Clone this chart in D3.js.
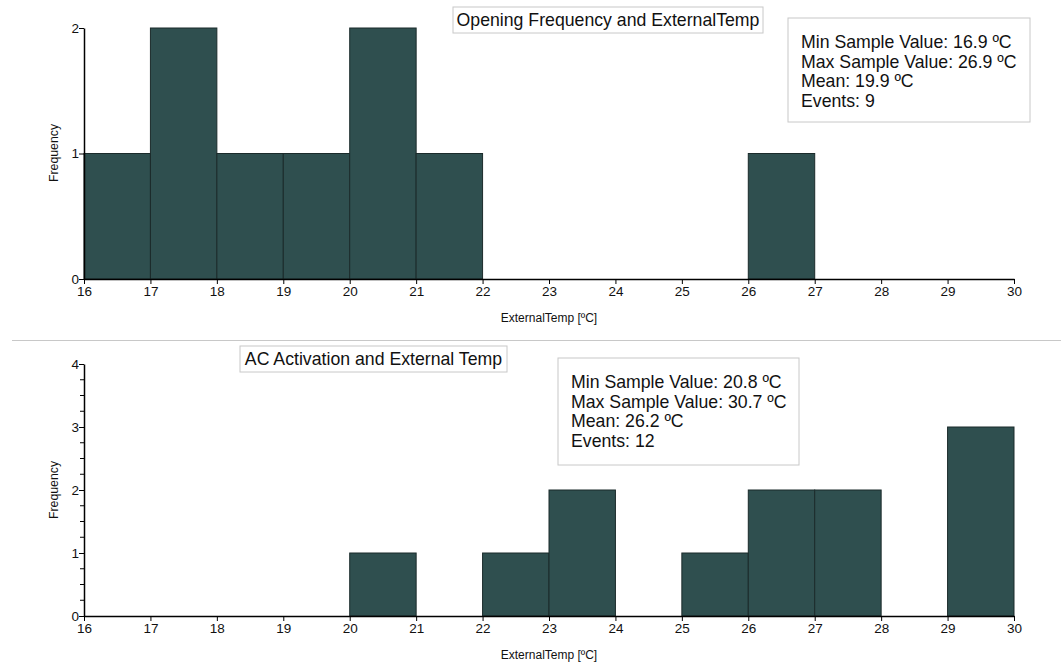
<!DOCTYPE html>
<html>
<head>
<meta charset="utf-8">
<script src="https://cdn.jsdelivr.net/npm/d3@7"></script>
<style>
  html, body { margin: 0; padding: 0; background: #fff; }
  svg { display: block; font-family: "Liberation Sans", Arial, sans-serif; }
</style>
</head>
<body>
<svg id="chart" width="1062" height="663"></svg>
<script>
// Histogram bins (lower edge of each 1 ºC bin) and counts
const openingBins = [16, 17, 18, 19, 20, 21, 26];
const openingCounts = [1, 2, 1, 1, 2, 1, 1];
const acBins = [20, 22, 23, 25, 26, 27, 29];
const acCounts = [1, 1, 2, 1, 2, 2, 3];

const xTicks = d3.range(16, 31, 1);
const openingYTicks = [0, 1, 2];
const acYTicks = [0, 1, 2, 3, 4];

const openingTitle = "Opening Frequency and ExternalTemp";
const acTitle = "AC Activation and External Temp";
const openingStats = ["Min Sample Value: 16.9 ºC", "Max Sample Value: 26.9 ºC", "Mean: 19.9 ºC", "Events: 9"];
const acStats = ["Min Sample Value: 20.8 ºC", "Max Sample Value: 30.7 ºC", "Mean: 26.2 ºC", "Events: 12"];
const xLabel = "ExternalTemp [ºC]";
const yLabel = "Frequency";

const svg = d3.select("#chart");
const barFill = "#2f4f4f";
const font = "'Liberation Sans', Arial, sans-serif";

function drawPanel(cfg) {
  const g = svg.append("g");
  const x = d3.scaleLinear().domain([16, 30]).range([84, 1014]);
  const y = d3.scaleLinear().domain([0, cfg.yMax]).range([cfg.y0, cfg.yTop]);

  // bars
  g.selectAll("rect.bar")
    .data(cfg.bins.map((b, i) => ({ b, c: cfg.counts[i] })))
    .join("rect")
    .attr("class", "bar")
    .attr("x", d => x(d.b))
    .attr("width", d => x(d.b + 1) - x(d.b))
    .attr("y", d => y(d.c))
    .attr("height", d => y(0) - y(d.c))
    .attr("fill", barFill)
    .attr("stroke", "#1b2b2b")
    .attr("stroke-width", 1);

  // x axis
  const xAxis = d3.axisBottom(x).tickValues(xTicks).tickFormat(d3.format("d")).tickSize(5).tickSizeOuter(0);
  const gx = g.append("g").attr("transform", `translate(0,${cfg.y0})`).call(xAxis)
    .attr("font-family", font).attr("font-size", 13.5);
  gx.select(".domain").attr("stroke", "#000").attr("stroke-width", 1.5);
  gx.selectAll(".tick line").attr("stroke", "#000");
  gx.selectAll(".tick text").attr("fill", "#111").attr("y", 13).attr("dy", "0.32em");

  // y minor ticks
  if (cfg.minor) {
    const minorVals = d3.range(0, cfg.yMax + 0.001, 0.25).filter(v => v % 1 !== 0);
    g.selectAll("line.minor").data(minorVals).join("line")
      .attr("x1", 80).attr("x2", 84)
      .attr("y1", d => y(d)).attr("y2", d => y(d))
      .attr("stroke", "#000");
  }

  // y axis
  const yAxis = d3.axisLeft(y).tickValues(cfg.yTicks).tickFormat(d3.format("d")).tickSize(5).tickSizeOuter(0);
  const gy = g.append("g").attr("transform", "translate(84,0)").call(yAxis)
    .attr("font-family", font).attr("font-size", 13.5);
  gy.select(".domain").attr("stroke", "#000").attr("stroke-width", 1.5);
  gy.selectAll(".tick line").attr("stroke", "#000");
  gy.selectAll(".tick text").attr("fill", "#111").attr("x", -5).attr("dy", "0.3em");

  // axis titles
  g.append("text").attr("x", 549).attr("y", cfg.y0 + 43)
    .attr("text-anchor", "middle").attr("font-size", 12).attr("fill", "#111").text(xLabel);
  g.append("text")
    .attr("transform", `translate(58,${cfg.yLabelY}) rotate(-90)`)
    .attr("text-anchor", "middle").attr("font-size", 12.3).attr("fill", "#111").text(yLabel);

  // title box
  g.append("rect").attr("x", cfg.title.x).attr("y", cfg.title.y)
    .attr("width", cfg.title.w).attr("height", 26)
    .attr("fill", "#fff").attr("stroke", "#c8c8c8");
  g.append("text").attr("x", cfg.title.x + cfg.title.w / 2).attr("y", cfg.title.y + 19)
    .attr("text-anchor", "middle").attr("font-size", 17.7).attr("fill", "#111").text(cfg.title.text);

  // stats box
  g.append("rect").attr("x", cfg.stats.x).attr("y", cfg.stats.y)
    .attr("width", cfg.stats.w).attr("height", cfg.stats.h)
    .attr("fill", "#fff").attr("stroke", "#c8c8c8");
  g.selectAll("text.stat").data(cfg.stats.lines).join("text")
    .attr("class", "stat")
    .attr("x", cfg.stats.x + 13)
    .attr("y", (d, i) => cfg.stats.y + 30 + i * 19.7)
    .attr("font-size", 17.7).attr("fill", "#111").text(d => d);
}

drawPanel({
  bins: openingBins, counts: openingCounts, yMax: 2, yTicks: openingYTicks,
  y0: 279, yTop: 28, minor: false, yLabelY: 153,
  title: { x: 453, y: 7, w: 310, text: openingTitle },
  stats: { x: 788, y: 18, w: 242, h: 104, lines: openingStats }
});

drawPanel({
  bins: acBins, counts: acCounts, yMax: 4, yTicks: acYTicks,
  y0: 616, yTop: 364, minor: true, yLabelY: 490,
  title: { x: 240, y: 346, w: 267, text: acTitle },
  stats: { x: 558, y: 358, w: 241, h: 107, lines: acStats }
});

// separator between the two panels
svg.append("line").attr("x1", 12).attr("x2", 1061).attr("y1", 340.5).attr("y2", 340.5)
  .attr("stroke", "#c8c8c8").attr("stroke-width", 1);
</script>
</body>
</html>
